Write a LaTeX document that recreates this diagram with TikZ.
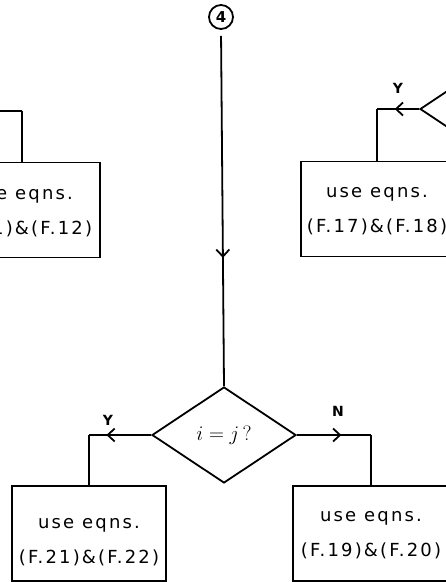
\documentclass[tikz,border=0pt]{standalone}
\usepackage{fontspec}
\setmainfont{DejaVu Sans}[LetterSpace=12]
\usetikzlibrary{shapes.geometric,arrows.meta,decorations.markings}
\begin{document}
\begin{tikzpicture}[x=1pt,y=-1pt, line width=1.8pt,
  txt/.style={font=\fontsize{18}{35}\selectfont, align=center, inner sep=0pt},
  boxnode/.style={draw, rectangle, line width=1.8pt, minimum height=95pt, inner sep=0pt},
  dec/.style={draw, diamond, aspect=1.5, minimum width=144pt, minimum height=96pt, inner sep=0pt, line width=1.8pt},
  midarrow/.style={postaction={decorate}, decoration={markings, mark=at position #1 with {\arrow{Straight Barb[length=7pt,width=13pt,line width=1.8pt]}}}},
  lbl/.style={font=\fontsize{14}{14}\selectfont\bfseries}
]
\useasboundingbox (0,0) rectangle (446,582);
\clip (0,0) rectangle (446,582);

% connector circle
\node[draw, circle, minimum size=24pt, inner sep=0pt, line width=1.8pt, font=\fontsize{15}{15}\selectfont\bfseries] (c4) at (221,17) {4};

% main decision
\node[dec] (d) at (224,435) {\fontsize{21}{21}\selectfont$i=j\,?$};

% boxes
\node[boxnode, minimum width=154pt] (bl) at (89,533.5) {};
\node[boxnode, minimum width=156pt] (br) at (371,533.5) {};
\node[boxnode, minimum width=152pt] (tr) at (377,209) {};
\node[boxnode, minimum width=156pt] (tl) at (22,210) {};

% box texts
\node[txt] (blt) at ([yshift=-9pt]bl.center) {use eqns.\\(F.21)\&(F.22)};
\node[txt] (brt) at ([yshift=-2pt]br.center) {use eqns.\\(F.19)\&(F.20)};
\node[txt] (trt) at ([yshift=-2pt]tr.center) {use eqns.\\(F.17)\&(F.18)};
\node[txt] (tlt) at ([yshift=-3pt]tl.center) {use eqns.\\(F.11)\&(F.12)};

% partially visible decisions
\node[dec] (d2) at (492,109) {};
\node[dec] (d0) at (-110,111) {};

% corners
\coordinate (cl) at (d.west -| bl.north);
\coordinate (cr) at (d.east -| br.north);
\coordinate (ct) at (d2.west -| tr.north);
\coordinate (c0) at (d0.east -| tl.north);

% connectors
\draw[midarrow=0.64, shorten <=6pt] (c4.south) -- (d.north);
\draw[midarrow=0.72] (d.west) -- (cl);
\draw (cl) -- (bl.north);
\draw[midarrow=0.6] (d.east) -- (cr);
\draw (cr) -- (br.north);
\draw[midarrow=0.58] (d2.west) -- (ct);
\draw (ct) -- (tr.north);
\draw[midarrow=0.4] (d0.east) -- (c0);
\draw (c0) -- (tl.north);

% labels
\node[lbl] (ly) at (108,420) {Y};
\node[lbl] (ln) at (338,411) {N};
\node[lbl] (ly2) at (398,88) {Y};
\end{tikzpicture}
\end{document}
